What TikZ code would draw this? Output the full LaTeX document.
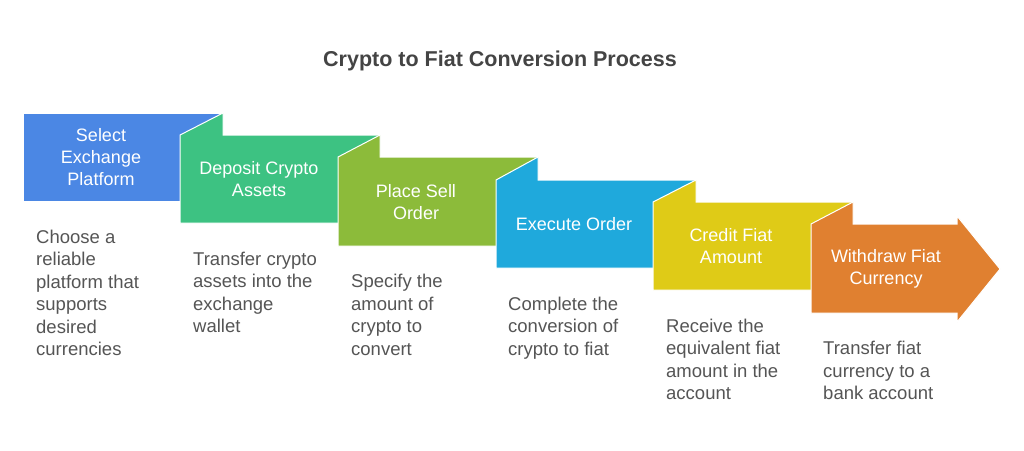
\documentclass[tikz,border=0pt]{standalone}
\usepackage{fontspec}
\setmainfont{Liberation Sans}
\definecolor{cblue}{HTML}{4B87E4}
\definecolor{cgreen}{HTML}{3DC282}
\definecolor{colive}{HTML}{8CBB3A}
\definecolor{ccyan}{HTML}{1FA9DC}
\definecolor{cyellow}{HTML}{DFCB17}
\definecolor{corange}{HTML}{E08030}
\definecolor{ctitle}{HTML}{444444}
\definecolor{cdesc}{HTML}{555555}
\begin{document}
\begin{tikzpicture}[x=1pt,y=-1pt,
  stepshape/.style={draw=white,line width=1pt,line join=miter},
  steplabel/.style={text=white,align=center,inner sep=0pt,font=\fontsize{18}{22}\selectfont},
  desclabel/.style={text=cdesc,align=left,anchor=north west,inner sep=0pt,font=\fontsize{18.5}{22.5}\selectfont},
  titlelabel/.style={text=ctitle,font=\bfseries\fontsize{21.5}{26}\selectfont}]
\useasboundingbox[fill=white] (0,0) rectangle (1024,450);
\node[titlelabel] (title) at (500,61) {Crypto to Fiat Conversion Process};
% step 1
\fill[cblue,stepshape] (23,113) -- (223,113) -- (223,201) -- (23,201) -- cycle;
% step 2
\fill[cgreen,stepshape] (180,223) -- (180,135) -- (223,113) -- (223,135) -- (380,135) -- (380,223) -- cycle;
% step 3
\fill[colive,stepshape] (338,246) -- (338,157) -- (380,135) -- (380,157) -- (538,157) -- (538,246) -- cycle;
% step 4
\fill[ccyan,stepshape] (496,268) -- (496,180) -- (538,157) -- (538,180) -- (696,180) -- (696,268) -- cycle;
% step 5
\fill[cyellow,stepshape] (653,290) -- (653,202) -- (696,180) -- (696,202) -- (853,202) -- (853,290) -- cycle;
% step 6 (arrow)
\fill[corange,stepshape] (811,313) -- (811,224) -- (853,202) -- (853,224) -- (957,224) -- (957,216) -- (1000,269) -- (957,322) -- (957,313) -- cycle;
% labels
\node[steplabel] (s1) at (101,157) {Select\\Exchange\\Platform};
\node[steplabel] (s2) at (259,179) {Deposit Crypto\\Assets};
\node[steplabel] (s3) at (416,202) {Place Sell\\Order};
\node[steplabel] (s4) at (574,224) {Execute Order};
\node[steplabel] (s5) at (731,246) {Credit Fiat\\Amount};
\node[steplabel] (s6) at (886,269) {Withdraw Fiat\\Currency};
% descriptions
\node[desclabel] (d1) at (36,227.5) {\strut Choose a\\reliable\\platform that\\supports\\desired\\currencies};
\node[desclabel] (d2) at (193,249.5) {\strut Transfer crypto\\assets into the\\exchange\\wallet};
\node[desclabel] (d3) at (351,272) {\strut Specify the\\amount of\\crypto to\\convert};
\node[desclabel] (d4) at (508,294.5) {\strut Complete the\\conversion of\\crypto to fiat};
\node[desclabel] (d5) at (666,316.5) {\strut Receive the\\equivalent fiat\\amount in the\\account};
\node[desclabel] (d6) at (823,339) {\strut Transfer fiat\\currency to a\\bank account};
\end{tikzpicture}
\end{document}
